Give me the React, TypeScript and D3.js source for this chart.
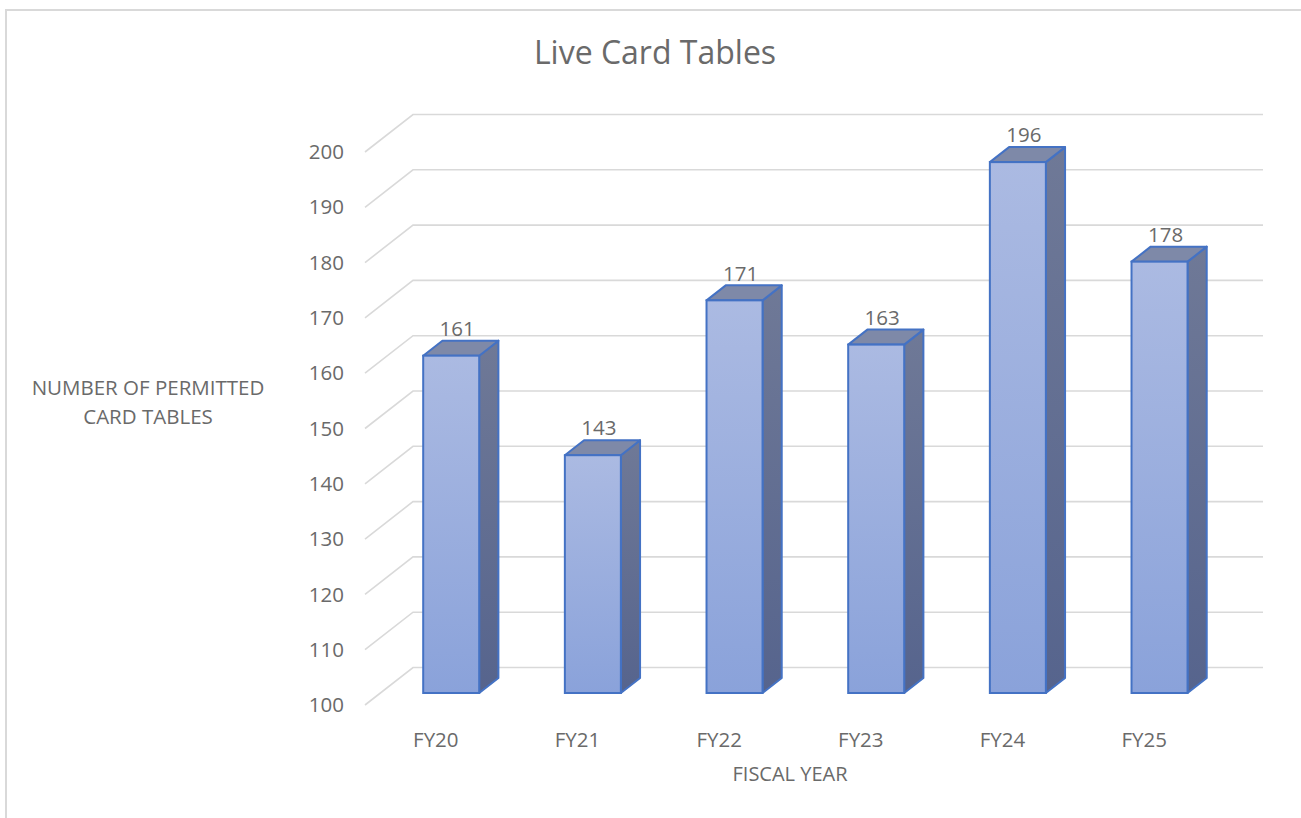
import React, { useEffect, useRef } from 'react';
import * as d3 from 'd3';

const categories = ['FY20', 'FY21', 'FY22', 'FY23', 'FY24', 'FY25'];
const values = [161, 143, 171, 163, 196, 178];
const yTicks = [100, 110, 120, 130, 140, 150, 160, 170, 180, 190, 200];

const TEXT = '#6a6a6a';
const GRID = '#d9d9d9';
const EDGE = '#4472c4';
const FONT = '"Open Sans", sans-serif';

const App: React.FC = () => {
  const ref = useRef<SVGSVGElement>(null);

  useEffect(() => {
    const width = 1301;
    const height = 818;
    const svg = d3.select(ref.current).attr('width', width).attr('height', height);
    svg.selectAll('*').remove();

    // chart frame
    svg.append('rect')
      .attr('x', 6).attr('y', 10)
      .attr('width', 1310).attr('height', 830)
      .attr('fill', '#fff')
      .attr('stroke', GRID).attr('stroke-width', 2);

    // front plane
    const left = 365;
    const right = 1215;
    const depthX = 48;
    const depthY = -37.5;

    const x = d3.scaleBand<string>().domain(categories).range([left, right]).paddingInner(0).paddingOuter(0);
    const y = d3.scaleLinear().domain([100, 200]).range([705, 152]);

    // bars sit part way into the depth
    const barFront = 0.32;
    const barDepth = 0.4;
    const barWidth = 56;

    const defs = svg.append('defs');
    const gFront = defs.append('linearGradient').attr('id', 'front').attr('x1', 0).attr('y1', 0).attr('x2', 0).attr('y2', 1);
    gFront.append('stop').attr('offset', '0%').attr('stop-color', '#abbae2');
    gFront.append('stop').attr('offset', '100%').attr('stop-color', '#8aa2da');
    const gSide = defs.append('linearGradient').attr('id', 'side').attr('x1', 0).attr('y1', 0).attr('x2', 0).attr('y2', 1);
    gSide.append('stop').attr('offset', '0%').attr('stop-color', '#6f7997');
    gSide.append('stop').attr('offset', '100%').attr('stop-color', '#56648d');

    // gridlines: left wall diagonal + back wall horizontal
    const grid = svg.append('g');
    yTicks.forEach(t => {
      const yy = y(t);
      grid.append('path')
        .attr('d', `M${left},${yy} L${left + depthX},${yy + depthY} L${right + depthX},${yy + depthY}`)
        .attr('fill', 'none')
        .attr('stroke', GRID)
        .attr('stroke-width', 1.6);
    });

    // y tick labels
    svg.append('g').selectAll('text')
      .data(yTicks).enter().append('text')
      .attr('x', 344)
      .attr('y', d => y(d))
      .attr('dy', '0.35em')
      .attr('text-anchor', 'end')
      .attr('font-family', FONT)
      .attr('font-size', 20.5)
      .attr('fill', TEXT)
      .text(d => d);

    // bars
    const fx = barFront * depthX;
    const fy = barFront * depthY;
    const dx = barDepth * depthX;
    const dy = barDepth * depthY;
    const bars = svg.append('g');
    categories.forEach((c, i) => {
      const cx = (x(c) as number) + x.bandwidth() / 2 + fx;
      const x0 = cx - barWidth / 2;
      const x1 = cx + barWidth / 2;
      const yTop = y(values[i]) + fy;
      const yBot = y(100) + fy;

      bars.append('path')
        .attr('d', `M${x1},${yTop} L${x1 + dx},${yTop + dy} L${x1 + dx},${yBot + dy} L${x1},${yBot} Z`)
        .attr('fill', 'url(#side)')
        .attr('stroke', EDGE).attr('stroke-width', 2).attr('stroke-linejoin', 'round');
      bars.append('path')
        .attr('d', `M${x0},${yTop} L${x0 + dx},${yTop + dy} L${x1 + dx},${yTop + dy} L${x1},${yTop} Z`)
        .attr('fill', '#7e89a8')
        .attr('stroke', EDGE).attr('stroke-width', 2).attr('stroke-linejoin', 'round');
      bars.append('rect')
        .attr('x', x0).attr('y', yTop)
        .attr('width', barWidth).attr('height', yBot - yTop)
        .attr('fill', 'url(#front)')
        .attr('stroke', EDGE).attr('stroke-width', 2);

      bars.append('text')
        .attr('x', cx + 6)
        .attr('y', yTop + dy - 12)
        .attr('dy', '0.35em')
        .attr('text-anchor', 'middle')
        .attr('font-family', FONT)
        .attr('font-size', 20.5)
        .attr('fill', TEXT)
        .text(values[i]);
    });

    // category labels
    svg.append('g').selectAll('text')
      .data(categories).enter().append('text')
      .attr('x', d => (x(d) as number) + x.bandwidth() / 2)
      .attr('y', 740)
      .attr('dy', '0.35em')
      .attr('text-anchor', 'middle')
      .attr('font-family', FONT)
      .attr('font-size', 20.5)
      .attr('fill', TEXT)
      .text(d => d);

    // axis titles
    svg.append('text')
      .attr('x', (left + right) / 2).attr('y', 774).attr('dy', '0.35em')
      .attr('text-anchor', 'middle')
      .attr('font-family', FONT).attr('font-size', 20).attr('fill', TEXT)
      .text('FISCAL YEAR');

    const yTitle = svg.append('text')
      .attr('text-anchor', 'middle')
      .attr('font-family', FONT).attr('font-size', 20.5).attr('fill', TEXT);
    yTitle.append('tspan').attr('x', 148).attr('y', 388).attr('dy', '0.35em').text('NUMBER OF PERMITTED');
    yTitle.append('tspan').attr('x', 148).attr('y', 417).attr('dy', '0.35em').text('CARD TABLES');

    // chart title
    svg.append('text')
      .attr('x', 655).attr('y', 53).attr('dy', '0.35em')
      .attr('text-anchor', 'middle')
      .attr('font-family', FONT).attr('font-size', 32).attr('fill', TEXT)
      .text('Live Card Tables');
  }, []);

  return (
    <div style={{ position: 'absolute', left: 0, top: 0, width: 1301, height: 818, overflow: 'hidden' }}>
      <svg ref={ref} style={{ display: 'block' }}></svg>
    </div>
  );
};

export default App;
